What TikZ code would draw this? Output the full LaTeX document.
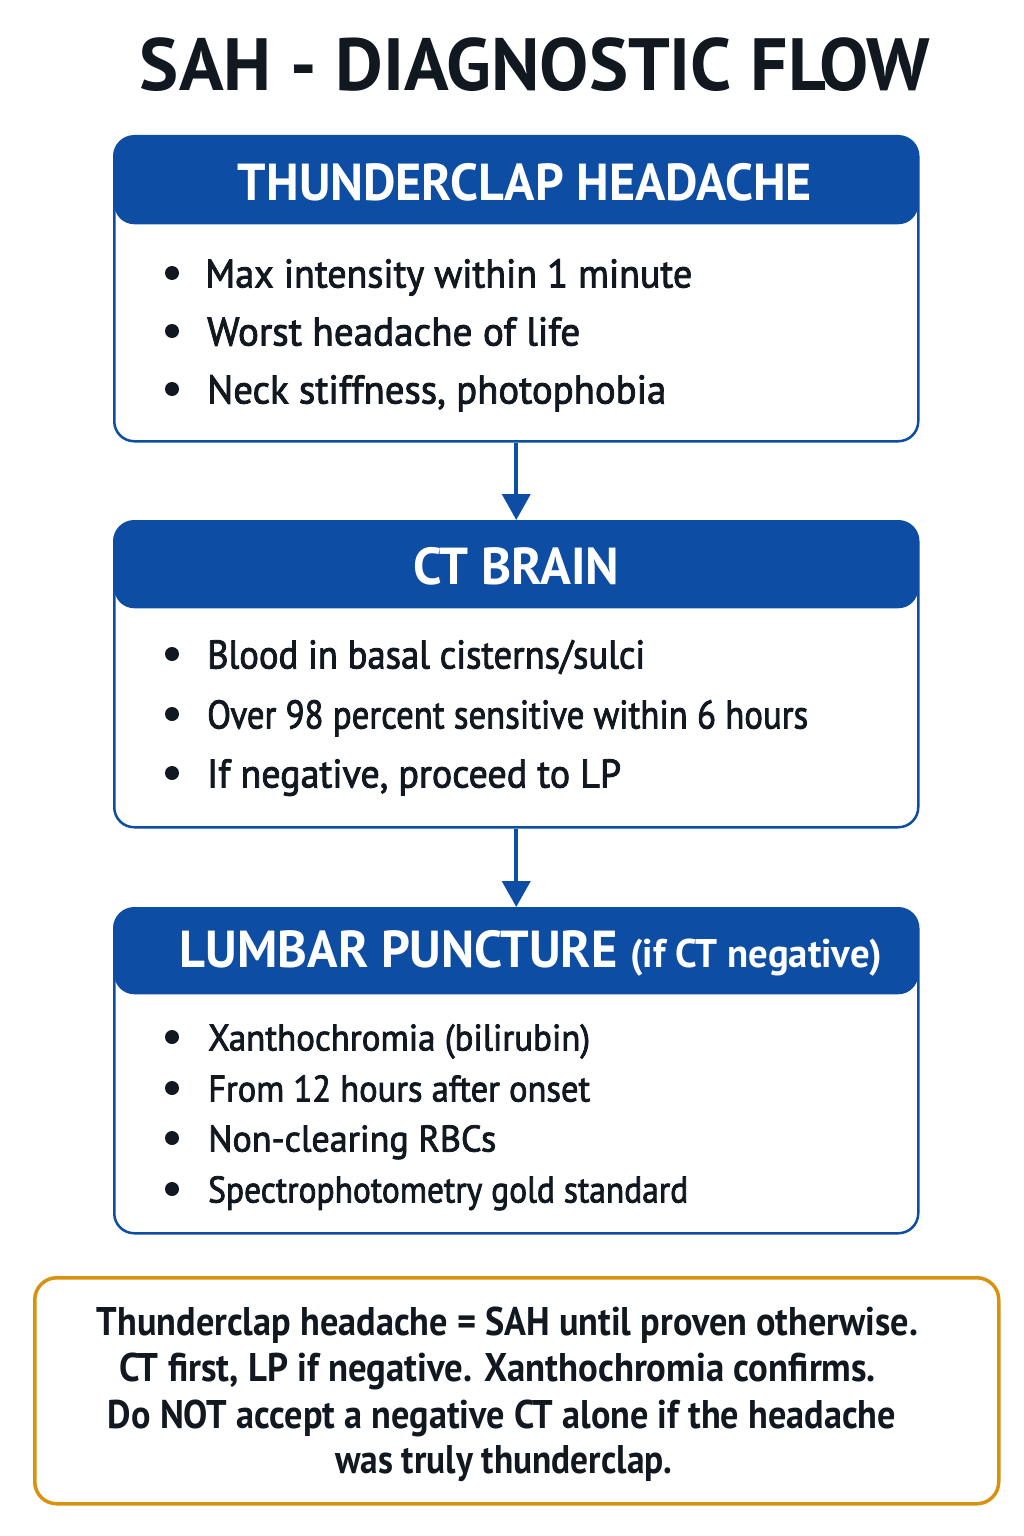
\documentclass[tikz,border=0pt]{standalone}
\usepackage{fontspec}
\usepackage{graphicx}
\setmainfont{PT Sans}
\newfontfamily\condfont{PT Sans}
\newfontfamily\medfont[FakeBold=2.2]{PT Sans}
\usetikzlibrary{arrows.meta}
\definecolor{hdrblue}{HTML}{0E4DA4}
\definecolor{boxorange}{HTML}{D9920F}
\definecolor{ink}{HTML}{111820}
\newcommand{\fitw}[2]{\resizebox{#1}{\height}{#2}}
\tikzset{
  card/.style={draw=hdrblue, line width=2.5pt, rounded corners=20pt, fill=white,
    minimum width=804pt, anchor=north west, inner sep=0pt,
    path picture={\fill[hdrblue] (path picture bounding box.north west) rectangle ([yshift=-#1]path picture bounding box.north east);}},
  hdr/.style={text=white, font=\condfont\bfseries\fontsize{52}{56}\selectfont, inner sep=0pt},
  body/.style={text=ink, font=\medfont\fontsize{40}{44}\selectfont, inner sep=0pt, anchor=base west},
  bodysm/.style={text=ink, font=\medfont\fontsize{37}{40}\selectfont, inner sep=0pt, anchor=base west},
  flow/.style={draw=hdrblue, line width=4pt, -{Triangle[width=28pt,length=26pt]}},
  notebox/.style={draw=boxorange, line width=3.5pt, rounded corners=22pt, fill=white,
    minimum width=964pt, minimum height=226pt, anchor=north west, inner sep=0pt},
  notetext/.style={text=ink, font=\condfont\bfseries\fontsize{40}{46}\selectfont, inner sep=0pt, anchor=base}
}
\newcommand{\bdot}[1]{\fill[ink] (172,#1) circle (7pt);}
\begin{document}
\begin{tikzpicture}[x=1pt,y=-1pt]
\useasboundingbox (0,0) rectangle (1024,1536);
\fill[white] (0,0) rectangle (1024,1536);

% title
\node[text=ink, font=\condfont\bfseries\fontsize{74}{80}\selectfont, inner sep=0pt] (title) at (535,65) {\fitw{790pt}{SAH - DIAGNOSTIC FLOW}};

% box 1
\node[card=88pt, minimum height=305pt] (box1) at (113,135) {};
\node[hdr] (h1) at (525,182) {\fitw{574pt}{THUNDERCLAP HEADACHE}};
\bdot{273}\node[body] (b11) at (205,287.5) {\fitw{487pt}{Max intensity within 1 minute}};
\bdot{331}\node[body] (b12) at (207,345.5) {\fitw{373pt}{Worst headache of life}};
\bdot{389}\node[body] (b13) at (207,403.5) {\fitw{459pt}{Neck stiffness, photophobia}};

% box 2
\node[card=87pt, minimum height=306pt] (box2) at (113,520) {};
\node[hdr] (h2) at (516,566) {\fitw{206pt}{CT BRAIN}};
\bdot{654}\node[body] (b21) at (207,668.5) {\fitw{438pt}{Blood in basal cisterns/sulci}};
\bdot{714}\node[body] (b22) at (207,728.5) {\fitw{601pt}{Over 98 percent sensitive within 6 hours}};
\bdot{773}\node[body] (b23) at (207,787.5) {\fitw{414pt}{If negative, proceed to LP}};

% box 3
\node[card=86pt, minimum height=325pt] (box3) at (113,907) {};
\node[hdr] (h3) at (531,953) {\fitw{702pt}{LUMBAR PUNCTURE {\fontsize{40}{44}\selectfont (if CT negative)}}};
\bdot{1037}\node[bodysm] (b31) at (208,1050.5) {\fitw{382pt}{Xanthochromia (bilirubin)}};
\bdot{1088}\node[bodysm] (b32) at (208,1101.5) {\fitw{382pt}{From 12 hours after onset}};
\bdot{1138}\node[bodysm] (b33) at (208,1151.5) {\fitw{288pt}{Non-clearing RBCs}};
\bdot{1189}\node[bodysm] (b34) at (208,1202.5) {\fitw{480pt}{Spectrophotometry gold standard}};

% arrows
\draw[flow] (box1.south) -- (box2.north);
\draw[flow] (box2.south) -- (box3.north);

% note
\node[notebox] (note) at (33,1276) {};
\node[notetext] (n1) at (507.5,1335) {\fitw{821pt}{Thunderclap headache = SAH until proven otherwise.}};
\node[notetext] (n2) at (497.5,1381) {\fitw{757pt}{CT first, LP if negative. Xanthochromia confirms.}};
\node[notetext] (n3) at (502,1428) {\fitw{788pt}{Do NOT accept a negative CT alone if the headache}};
\node[notetext] (n4) at (503.5,1473) {\fitw{337pt}{was truly thunderclap.}};
\end{tikzpicture}
\end{document}
